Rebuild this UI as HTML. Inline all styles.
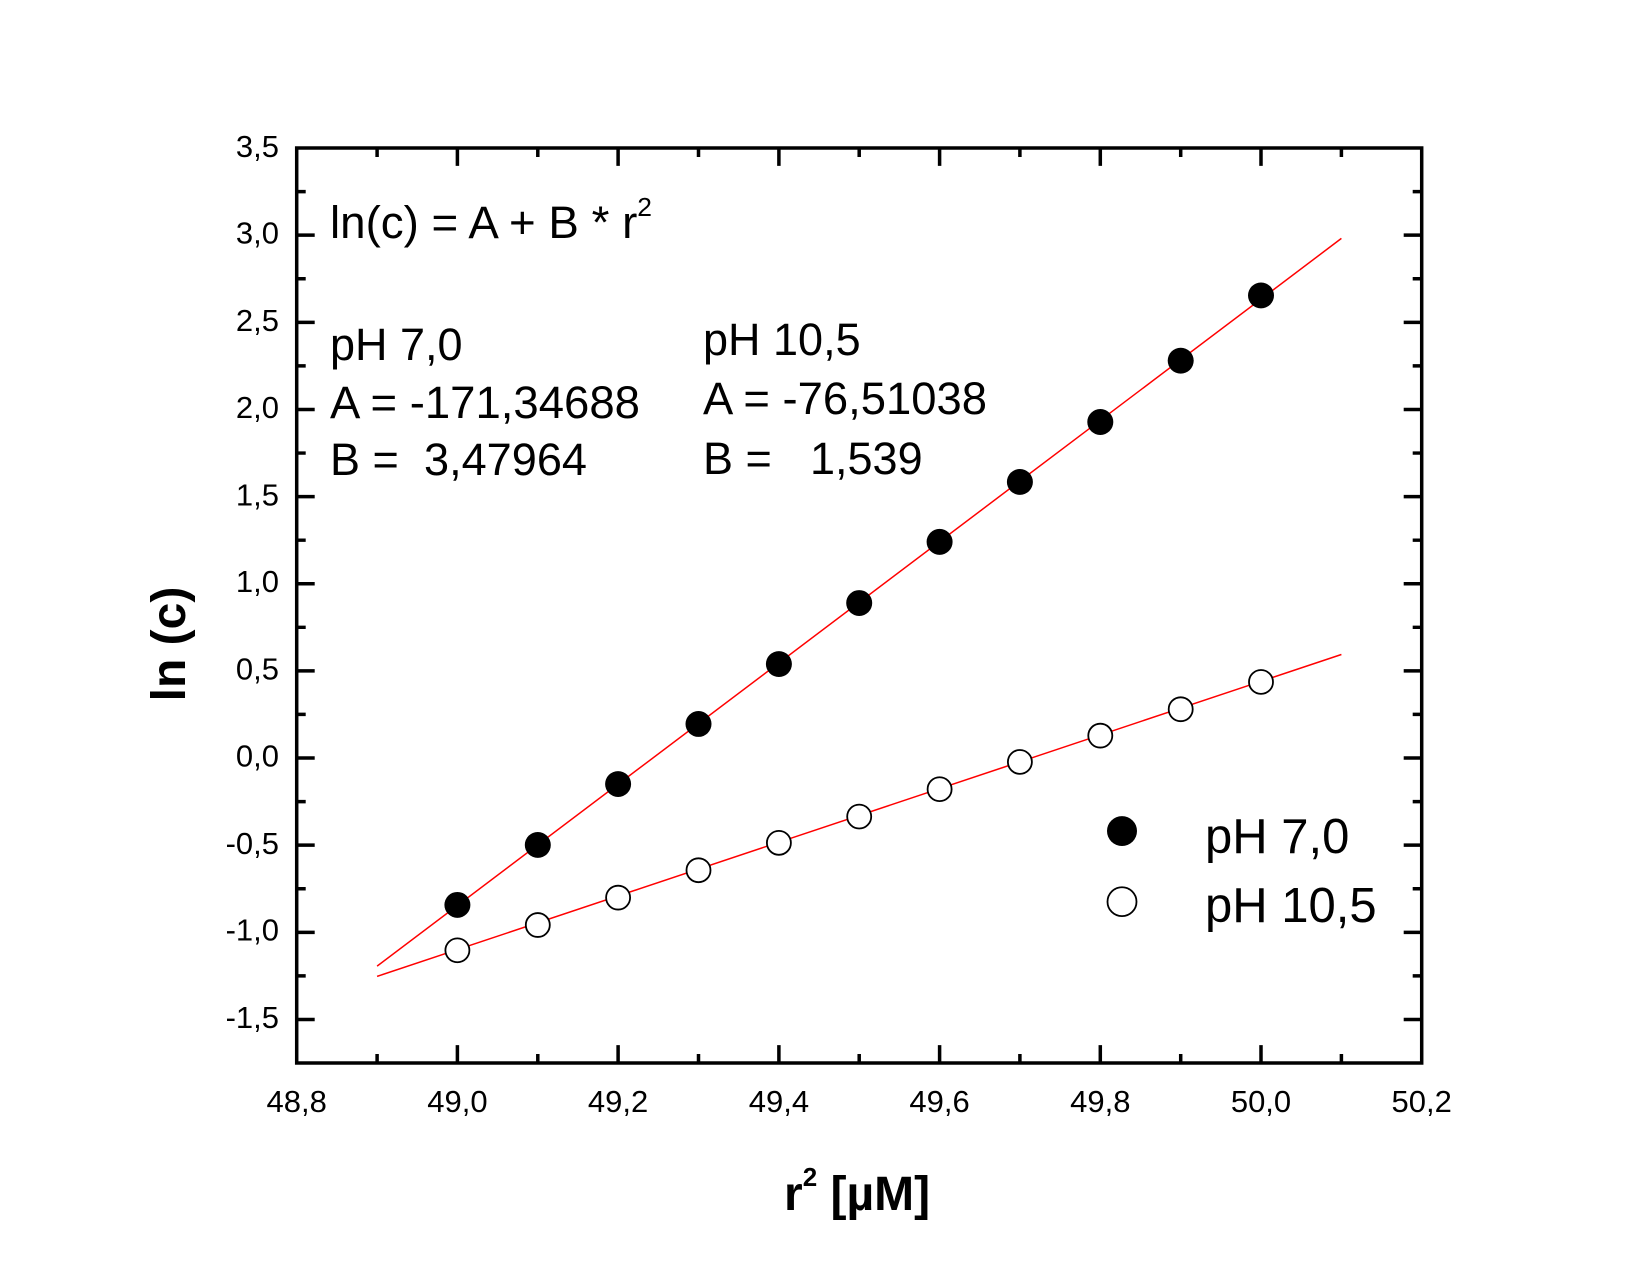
<!DOCTYPE html>
<html><head><meta charset="utf-8"><style>html,body{margin:0;padding:0;background:#fff}svg{display:block}</style></head>
<body>
<svg width="1650" height="1274" viewBox="0 0 1650 1274" xmlns="http://www.w3.org/2000/svg" font-family="Liberation Sans, Arial, sans-serif">
<rect width="1650" height="1274" fill="#fff"/>
<g transform="translate(0,148) scale(1,0.99565) translate(0,-148)">
<g stroke="#000" stroke-width="3.5" fill="none">
<rect x="296.7" y="148" width="1125" height="919"/>
<path d="M457.4 1067v-18M618.1 1067v-18M778.9 1067v-18M939.6 1067v-18M1100.3 1067v-18M1261 1067v-18
M377.1 1067v-9M537.8 1067v-9M698.5 1067v-9M859.2 1067v-9M1019.9 1067v-9M1180.7 1067v-9M1341.4 1067v-9
M457.4 148v18M618.1 148v18M778.9 148v18M939.6 148v18M1100.3 148v18M1261 148v18
M377.1 148v9M537.8 148v9M698.5 148v9M859.2 148v9M1019.9 148v9M1180.7 148v9M1341.4 148v9"/>
<path d="M296.7 235.5h18M296.7 323.1h18M296.7 410.6h18M296.7 498.1h18M296.7 585.6h18M296.7 673.2h18M296.7 760.7h18M296.7 848.2h18M296.7 935.8h18M296.7 1023.3h18
M296.7 191.8h9M296.7 279.3h9M296.7 366.8h9M296.7 454.4h9M296.7 541.9h9M296.7 629.4h9M296.7 716.9h9M296.7 804.5h9M296.7 892h9M296.7 979.5h9
M1421.7 235.5h-18M1421.7 323.1h-18M1421.7 410.6h-18M1421.7 498.1h-18M1421.7 585.6h-18M1421.7 673.2h-18M1421.7 760.7h-18M1421.7 848.2h-18M1421.7 935.8h-18M1421.7 1023.3h-18
M1421.7 191.8h-9M1421.7 279.3h-9M1421.7 366.8h-9M1421.7 454.4h-9M1421.7 541.9h-9M1421.7 629.4h-9M1421.7 716.9h-9M1421.7 804.5h-9M1421.7 892h-9M1421.7 979.5h-9"/>
</g>
<g font-size="31" fill="#000" text-anchor="end">
<text x="279" y="157">3,5</text><text x="279" y="244">3,0</text><text x="279" y="332">2,5</text><text x="279" y="419">2,0</text><text x="279" y="507">1,5</text><text x="279" y="594">1,0</text><text x="279" y="682">0,5</text><text x="279" y="769">0,0</text><text x="279" y="857">-0,5</text><text x="279" y="944">-1,0</text><text x="279" y="1032">-1,5</text>
</g>
<g stroke="#ff0000" stroke-width="1.5">
<line x1="377.1" y1="969.7" x2="1341.4" y2="238.8"/>
<line x1="377.1" y1="980" x2="1341.4" y2="656.7"/>
</g>
<g fill="#000">
<circle cx="457.4" cy="908.2" r="13"/><circle cx="537.8" cy="848" r="13"/><circle cx="618.1" cy="786.8" r="13"/><circle cx="698.5" cy="726.5" r="13"/><circle cx="778.9" cy="666.3" r="13"/><circle cx="859.2" cy="605" r="13"/><circle cx="939.6" cy="543.6" r="13"/><circle cx="1019.9" cy="483.4" r="13"/><circle cx="1100.3" cy="423.2" r="13"/><circle cx="1180.7" cy="361.6" r="13"/><circle cx="1261" cy="296.1" r="13"/>
<circle cx="1122" cy="834" r="15"/>
</g>
<g fill="#fff" stroke="#000" stroke-width="1.8">
<circle cx="457.4" cy="953.8" r="12"/><circle cx="537.8" cy="928.4" r="12"/><circle cx="618.1" cy="900.9" r="12"/><circle cx="698.5" cy="873.4" r="12"/><circle cx="778.9" cy="845.9" r="12"/><circle cx="859.2" cy="819.5" r="12"/><circle cx="939.6" cy="792" r="12"/><circle cx="1019.9" cy="764.6" r="12"/><circle cx="1100.3" cy="738.2" r="12"/><circle cx="1180.7" cy="711.7" r="12"/><circle cx="1261" cy="684.3" r="12"/>
<circle cx="1122" cy="905" r="14.5"/>
</g>
</g>
<g font-size="31" fill="#000" text-anchor="middle">
<text x="296.7" y="1112">48,8</text><text x="457.4" y="1112">49,0</text><text x="618.1" y="1112">49,2</text><text x="778.9" y="1112">49,4</text><text x="939.6" y="1112">49,6</text><text x="1100.3" y="1112">49,8</text><text x="1261" y="1112">50,0</text><text x="1421.7" y="1112">50,2</text>
</g>
<text transform="translate(185,644) rotate(-90)" font-size="48" font-weight="bold" text-anchor="middle">ln (c)</text>
<text x="784" y="1210" font-size="48" font-weight="bold">r<tspan font-size="26" dy="-24">2</tspan><tspan dy="24"> [µM]</tspan></text>
<g font-size="45" fill="#000">
<text x="330" y="238" textLength="322" lengthAdjust="spacingAndGlyphs">ln(c) = A + B * r<tspan font-size="26" dy="-22">2</tspan></text>
<text x="330" y="360">pH 7,0</text>
<text x="330" y="418" textLength="310" lengthAdjust="spacingAndGlyphs">A = -171,34688</text>
<text x="330" y="475">B =&#160;&#160;<tspan x="424" textLength="163" lengthAdjust="spacingAndGlyphs">3,47964</tspan></text>
<text x="703" y="355">pH 10,5</text>
<text x="703" y="414" textLength="284" lengthAdjust="spacingAndGlyphs">A = -76,51038</text>
<text x="703" y="474">B =<tspan x="810">1,539</tspan></text>
</g>
<g font-size="49" fill="#000">
<text x="1205" y="853">pH 7,0</text>
<text x="1205" y="922">pH 10,5</text>
</g>
</svg>
</body></html>
